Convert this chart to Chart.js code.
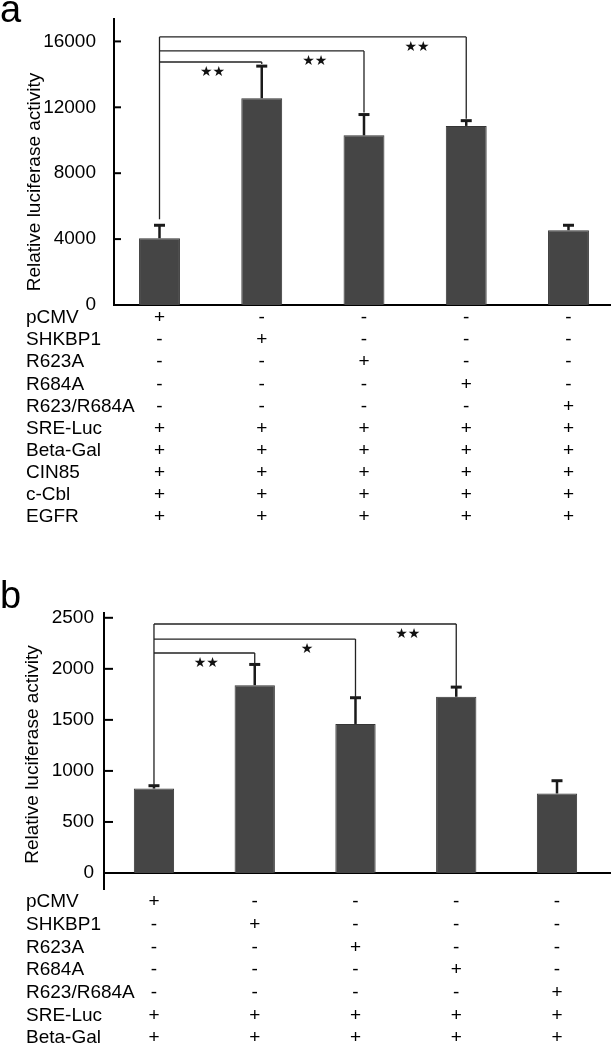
<!DOCTYPE html>
<html><head><meta charset="utf-8">
<script src="https://cdn.jsdelivr.net/npm/chart.js@4"></script>
<style>
html,body{margin:0;padding:0;background:#fff;}
#wrap{position:relative;width:614px;height:1050px;overflow:hidden;}
canvas{position:absolute;left:0;}
#ca{top:0;} #cb{top:545px;}
</style></head><body>
<div id="wrap">
<canvas id="ca" width="614" height="545"></canvas>
<canvas id="cb" width="614" height="505"></canvas>
</div>
<script>
// ---------- data ----------
const groups = ['pCMV', 'SHKBP1', 'R623A', 'R684A', 'R623/R684A'];
const valuesA = [4050, 12550, 10300, 10870, 4540];
const errorsA = [790, 1950, 1260, 320, 300];
const valuesB = [827, 1840, 1460, 1726, 779];
const errorsB = [28, 203, 257, 95, 125];
const yTicksA = [0, 4000, 8000, 12000, 16000];
const yTicksB = [0, 500, 1000, 1500, 2000, 2500];
const rowLabelsA = ['pCMV', 'SHKBP1', 'R623A', 'R684A', 'R623/R684A', 'SRE-Luc', 'Beta-Gal', 'CIN85', 'c-Cbl', 'EGFR'];
const rowSignsA = [
  ['+', '-', '-', '-', '-'],
  ['-', '+', '-', '-', '-'],
  ['-', '-', '+', '-', '-'],
  ['-', '-', '-', '+', '-'],
  ['-', '-', '-', '-', '+'],
  ['+', '+', '+', '+', '+'],
  ['+', '+', '+', '+', '+'],
  ['+', '+', '+', '+', '+'],
  ['+', '+', '+', '+', '+'],
  ['+', '+', '+', '+', '+']
];
const rowLabelsB = ['pCMV', 'SHKBP1', 'R623A', 'R684A', 'R623/R684A', 'SRE-Luc', 'Beta-Gal'];
const rowSignsB = [
  ['+', '-', '-', '-', '-'],
  ['-', '+', '-', '-', '-'],
  ['-', '-', '+', '-', '-'],
  ['-', '-', '-', '+', '-'],
  ['-', '-', '-', '-', '+'],
  ['+', '+', '+', '+', '+'],
  ['+', '+', '+', '+', '+']
];
// significance comparisons vs. pCMV (index 0): target bar, mark, bracket level (y units)
const compTargetsA = [1, 2, 3];
const compMarksA = ['**', '**', '**'];
const compLevelsA = [14750, 15420, 16270];
const compTargetsB = [1, 2, 3];
const compMarksB = ['**', '*', '**'];
const compLevelsB = [2155, 2292, 2439];
const yTitle = 'Relative luciferase activity';

// ---------- layout / style ----------
const FONT = '"Liberation Sans", Arial, Helvetica, sans-serif';
const panels = [
  { canvas: 'ca', values: valuesA, errors: errorsA, ticks: yTicksA, yMax: 17360,
    xMin: -0.445, xMax: 4.406, axisW: 114, xAxisH: 240, padTop: 19, tickPad: 10, tickLen: 7, axisExt: 0,
    rows: rowLabelsA, signs: rowSignsA, rowStart: 318, rowStep: 22.1,
    targets: compTargetsA, marks: compMarksA, levels: compLevelsA, gapL: 6, gapR: 2,
    letter: 'a', letterY: 22, titleX: 35, titleY: 182 },
  { canvas: 'cb', values: valuesB, errors: errorsB, ticks: yTicksB, yMax: 2547,
    xMin: -0.496, xMax: 4.526, axisW: 104, xAxisH: 177, padTop: 68, tickPad: 2, tickLen: 9, axisExt: 17,
    rows: rowLabelsB, signs: rowSignsB, rowStart: 357, rowStep: 22.67,
    targets: compTargetsB, marks: compMarksB, levels: compLevelsB, gapL: 0, gapR: 0,
    letter: 'b', letterY: 63, titleX: 33, titleY: 209.5 }
];

function makeDecor(p) {
  function line(ctx, x1, y1, x2, y2) { ctx.beginPath(); ctx.moveTo(x1, y1); ctx.lineTo(x2, y2); ctx.stroke(); }
  return {
    id: 'decor_' + p.canvas,
    afterDatasetsDraw(chart) {
      const ctx = chart.ctx, xs = chart.scales.x, ys = chart.scales.y;
      const ca = chart.chartArea;
      ctx.save();
      // error bars (upper only)
      ctx.strokeStyle = '#1a1a1a';
      p.values.forEach((v, i) => {
        const px = xs.getPixelForValue(i);
        const y0 = ys.getPixelForValue(v), y1 = ys.getPixelForValue(v + p.errors[i]);
        ctx.lineWidth = 2.5; line(ctx, px, y0, px, y1);
        ctx.lineWidth = 3; line(ctx, px - 5.5, y1, px + 5.5, y1);
      });
      // inward y ticks
      ctx.strokeStyle = '#000'; ctx.lineWidth = 2;
      p.ticks.forEach(t => {
        if (t === 0) return;
        const y = ys.getPixelForValue(t);
        line(ctx, ca.left, y, ca.left + p.tickLen, y);
      });
      if (p.axisExt) line(ctx, ca.left, ca.bottom, ca.left, ca.bottom + p.axisExt);
      // significance brackets
      ctx.strokeStyle = '#222'; ctx.lineWidth = 1.3;
      const x0 = xs.getPixelForValue(0);
      const topLevel = Math.max(...p.levels);
      const y0Err = ys.getPixelForValue(p.values[0] + p.errors[0]);
      line(ctx, x0, ys.getPixelForValue(topLevel), x0, y0Err - p.gapL);
      ctx.fillStyle = '#111';
      ctx.font = '14px "DejaVu Sans", sans-serif';
      ctx.textAlign = 'center'; ctx.textBaseline = 'middle';
      p.targets.forEach((t, k) => {
        const xt = xs.getPixelForValue(t);
        const yl = ys.getPixelForValue(p.levels[k]);
        const yErr = ys.getPixelForValue(p.values[t] + p.errors[t]);
        line(ctx, x0, yl, xt, yl);
        line(ctx, xt, yl, xt, yErr - p.gapR);
        const star = p.marks[k].replace(/\*/g, '\u2605');
        ctx.fillText(star, xs.getPixelForValue(t - 0.5) + 2, yl + 10.5);
      });
      ctx.restore();
    },
    afterDraw(chart) {
      const ctx = chart.ctx, xs = chart.scales.x;
      ctx.save();
      ctx.fillStyle = '#000';
      // panel letter
      ctx.font = '38px ' + FONT;
      ctx.textAlign = 'left'; ctx.textBaseline = 'alphabetic';
      ctx.fillText(p.letter, 0, p.letterY);
      // y title
      ctx.font = '19px ' + FONT;
      ctx.save();
      ctx.translate(p.titleX, p.titleY);
      ctx.rotate(-Math.PI / 2);
      ctx.textAlign = 'center'; ctx.textBaseline = 'middle';
      ctx.fillText(yTitle, 0, 0);
      ctx.restore();
      // condition rows
      ctx.textBaseline = 'middle';
      p.rows.forEach((lab, r) => {
        const y = p.rowStart + r * p.rowStep;
        ctx.textAlign = 'left';
        ctx.fillText(lab, 26, y);
        ctx.textAlign = 'center';
        p.signs[r].forEach((s, j) => ctx.fillText(s, xs.getPixelForValue(j), y));
      });
      ctx.restore();
    }
  };
}

panels.forEach(p => {
  const ctx = document.getElementById(p.canvas).getContext('2d');
  new Chart(ctx, {
    type: 'bar',
    data: {
      labels: groups,
      datasets: [{
        data: p.values.map((v, i) => ({ x: i, y: v })),
        backgroundColor: '#454545',
        borderColor: '#353535',
        borderWidth: 1,
        barPercentage: 0.4,
        categoryPercentage: 1.0
      }]
    },
    options: {
      responsive: false,
      animation: false,
      devicePixelRatio: 1,
      layout: { padding: { top: p.padTop, right: 4, left: 0, bottom: 0 } },
      plugins: { legend: { display: false }, tooltip: { enabled: false } },
      scales: {
        x: {
          type: 'linear', min: p.xMin, max: p.xMax, offset: false,
          grid: { display: false },
          border: { display: true, color: '#000', width: 2 },
          ticks: { display: false },
          afterBuildTicks: s => { s.ticks = groups.map((g, i) => ({ value: i })); },
          afterFit: s => { s.height = p.xAxisH; s.paddingLeft = 0; s.paddingRight = 0; s.paddingTop = 0; s.paddingBottom = 0; }
        },
        y: {
          min: 0, max: p.yMax,
          grid: { display: false },
          border: { display: true, color: '#000', width: 2 },
          ticks: {
            color: '#000', padding: p.tickPad,
            font: { family: FONT, size: 19 },
            callback: v => String(v)
          },
          afterBuildTicks: s => { s.ticks = p.ticks.map(v => ({ value: v })); },
          afterFit: s => { s.width = p.axisW; s.paddingTop = 0; s.paddingBottom = 0; s.paddingLeft = 0; s.paddingRight = 0; }
        }
      }
    },
    plugins: [makeDecor(p)]
  });
});
</script>
</body></html>
